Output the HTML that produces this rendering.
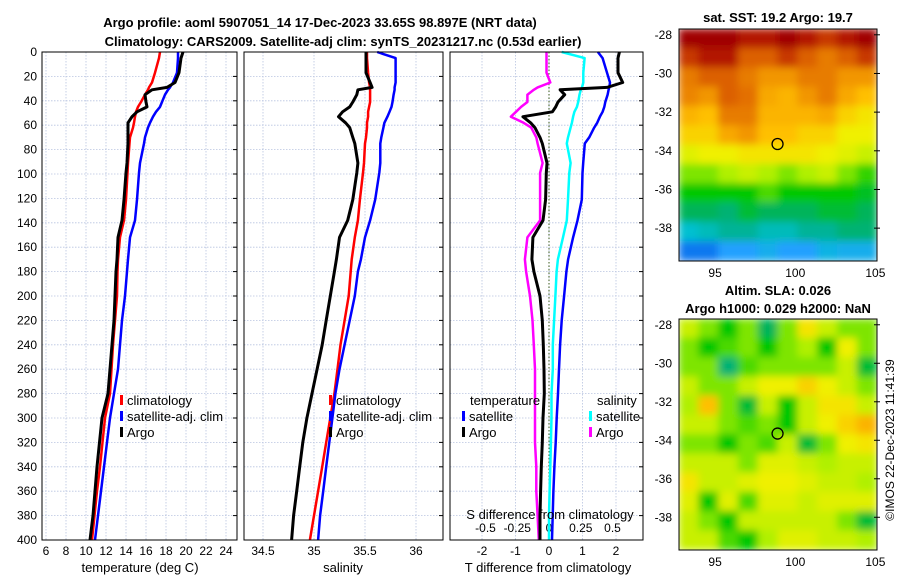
<!DOCTYPE html>
<html><head><meta charset="utf-8"><style>
body{margin:0;background:#fff;}
svg text{font-family:"Liberation Sans",sans-serif;}
</style></head><body>
<svg id="fig" width="900" height="580" xmlns="http://www.w3.org/2000/svg">
<text x="320" y="27" text-anchor="middle" font-size="13" font-weight="bold">Argo profile: aoml 5907051_14 17-Dec-2023 33.65S 98.897E (NRT data)</text>
<text x="343" y="46" text-anchor="middle" font-size="13" font-weight="bold">Climatology: CARS2009. Satellite-adj clim: synTS_20231217.nc (0.53d earlier)</text>
<text x="778" y="22" text-anchor="middle" font-size="13" font-weight="bold">sat. SST: 19.2 Argo: 19.7</text>
<text x="778" y="295" text-anchor="middle" font-size="13" font-weight="bold">Altim. SLA: 0.026</text>
<text x="778" y="313" text-anchor="middle" font-size="13" font-weight="bold">Argo h1000: 0.029 h2000: NaN</text>
<text transform="translate(894,440) rotate(-90)" text-anchor="middle" font-size="12">©IMOS 22-Dec-2023 11:41:39</text>
<g id="g"></g>
</svg>
<script>
// ---- data ----
const depths = [0,5,17,25,29,31,35,41,45,49,53,58,62,70,75,91,99,121,138,152,170,180,200,220,240,260,280,300,320,340,360,380,400];
const tempClim  = [17.4,17.3,16.9,16.6,16.3,16.2,15.9,15.5,15.2,15.0,14.9,14.8,14.7,14.4,14.35,14.2,14.15,14.0,13.8,13.4,13.2,13.15,13.1,12.9,12.7,12.55,12.4,11.9,11.65,11.4,11.1,10.85,10.6];
const tempSat   = [19.2,19.2,19.1,18.7,18.4,18.2,17.9,17.6,17.4,17.0,16.7,16.4,16.2,15.9,15.8,15.4,15.3,15.1,14.9,14.4,14.2,14.1,13.9,13.6,13.4,13.2,12.8,12.4,12.1,11.8,11.5,11.2,10.9];
const tempArgo  = [19.7,19.5,19.3,18.9,18.1,16.6,15.9,16.0,16.1,15.1,14.6,14.2,14.2,14.2,14.2,14.1,14.0,13.8,13.6,13.2,13.1,13.0,12.9,12.8,12.6,12.4,12.2,11.6,11.35,11.1,10.9,10.7,10.4];
const salClim   = [35.52,35.52,35.53,35.54,35.55,35.55,35.55,35.55,35.54,35.53,35.53,35.52,35.52,35.51,35.5,35.49,35.48,35.45,35.43,35.40,35.37,35.36,35.34,35.3,35.26,35.23,35.2,35.16,35.12,35.08,35.04,35.0,34.96];
const salSat    = [35.62,35.8,35.8,35.8,35.79,35.79,35.78,35.77,35.76,35.74,35.72,35.69,35.68,35.66,35.65,35.65,35.64,35.6,35.55,35.5,35.46,35.43,35.4,35.35,35.3,35.25,35.21,35.18,35.15,35.12,35.09,35.06,35.04];
const salArgo   = [35.51,35.51,35.51,35.55,35.57,35.43,35.42,35.38,35.35,35.28,35.24,35.31,35.35,35.38,35.40,35.43,35.42,35.38,35.33,35.25,35.22,35.2,35.16,35.12,35.08,35.03,34.98,34.93,34.89,34.86,34.83,34.8,34.78];
const tDiffSat  = [1.46,1.6,1.73,1.82,1.8,1.78,1.75,1.68,1.65,1.6,1.52,1.44,1.35,1.2,1.07,1.02,1.0,0.98,0.85,0.72,0.57,0.52,0.45,0.38,0.33,0.3,0.27,0.23,0.2,0.16,0.13,0.11,0.09];
const tDiffArgo = [2.1,2.06,2.06,2.2,1.73,0.33,0.47,0.27,0.2,0.1,-0.78,-0.55,-0.42,-0.27,-0.2,-0.06,-0.08,-0.1,-0.18,-0.48,-0.51,-0.45,-0.27,-0.2,-0.17,-0.15,-0.14,-0.18,-0.2,-0.23,-0.25,-0.27,-0.27];
const sDiffSat  = [0.10,0.28,0.27,0.27,0.26,0.25,0.24,0.23,0.22,0.2,0.19,0.18,0.17,0.15,0.14,0.17,0.16,0.15,0.14,0.11,0.07,0.06,0.05,0.04,0.03,0.03,0.02,0.02,0.015,0.01,0.005,0.0,0.0];
const sDiffArgo = [-0.02,-0.02,-0.02,0.01,-0.09,-0.12,-0.17,-0.17,-0.22,-0.26,-0.3,-0.2,-0.14,-0.1,-0.09,-0.05,-0.07,-0.07,-0.07,-0.17,-0.19,-0.18,-0.15,-0.13,-0.12,-0.11,-0.11,-0.11,-0.11,-0.1,-0.1,-0.09,-0.08];
const depthTicks = [0,20,40,60,80,100,120,140,160,180,200,220,240,260,280,300,320,340,360,380,400];
const tempTicks = [6,8,10,12,14,16,18,20,22,24];
const salTicks = [34.5,35,35.5,36];
const tdTicks = [-2,-1,0,1,2];
const sdTicks = [-0.5,-0.25,0,0.25,0.5];
const sdLabels = ["-0.5","-0.25","0","0.25","0.5"];
const lonTicks = [95,100,105];
const latTicks = [-28,-30,-32,-34,-36,-38];
const argoLon = 98.897, argoLat = -33.65;
const sstGrid = [
[1,1,1,0.95,0.95,1,0.95,0.9,0.95,1],
[0.9,0.95,0.95,0.85,0.85,0.9,0.85,0.8,0.85,0.9],
[0.8,0.85,0.85,0.8,0.75,0.75,0.8,0.8,0.75,0.75],
[0.78,0.75,0.85,0.82,0.72,0.7,0.75,0.8,0.72,0.68],
[0.7,0.68,0.8,0.8,0.7,0.7,0.7,0.72,0.65,0.62],
[0.65,0.65,0.72,0.75,0.68,0.68,0.65,0.65,0.6,0.6],
[0.58,0.6,0.6,0.62,0.62,0.62,0.62,0.6,0.58,0.55],
[0.5,0.5,0.52,0.55,0.52,0.5,0.52,0.55,0.5,0.47],
[0.45,0.45,0.45,0.45,0.48,0.45,0.45,0.45,0.45,0.43],
[0.4,0.4,0.38,0.42,0.4,0.4,0.4,0.42,0.42,0.4],
[0.3,0.32,0.35,0.35,0.32,0.32,0.35,0.35,0.38,0.38],
[0.2,0.2,0.25,0.25,0.27,0.25,0.25,0.28,0.27,0.27]];
const slaGrid = [
[.55,.5,.45,.5,.4,.5,.62,.55,.5,.5],
[.5,.45,.48,.5,.45,.5,.52,.45,.6,.5],
[.5,.5,.38,.48,.5,.5,.5,.5,.55,.42],
[.55,.5,.5,.55,.6,.6,.65,.6,.55,.5],
[.52,.68,.5,.42,.55,.45,.55,.62,.62,.55],
[.55,.55,.5,.48,.5,.45,.55,.6,.65,.7],
[.5,.5,.45,.5,.48,.55,.42,.5,.6,.62],
[.55,.55,.55,.5,.58,.58,.55,.52,.55,.55],
[.62,.55,.55,.58,.6,.6,.58,.55,.55,.52],
[.58,.45,.58,.48,.58,.58,.55,.58,.58,.58],
[.55,.5,.45,.55,.55,.55,.55,.55,.5,.42],
[.55,.55,.48,.45,.52,.58,.58,.55,.55,.52]];
const cmapStops = [0.15,0.25,0.3,0.36,0.4,0.45,0.52,0.6,0.68,0.76,0.85,0.92,1.0];
const cmapColors = [[0,80,224],[32,160,255],[0,192,208],[0,176,140],[0,180,90],[0,200,0],[176,240,0],[240,240,0],[255,192,0],[240,144,0],[220,96,0],[190,40,0],[160,0,0]];

// ---- helpers ----
const NS="http://www.w3.org/2000/svg";
const G=document.getElementById('g');
function mk(tag,attrs,parent){const e=document.createElementNS(NS,tag);for(const k in attrs)e.setAttribute(k,attrs[k]);(parent||G).appendChild(e);return e;}
const Y0=52,Y1=540;
const yD=d=>Y0+(d/400)*(Y1-Y0);
const xT=t=>46+(t-6)*10;
const xS=s=>314+(s-35)*102;
const xTd=v=>549+v*33.5;
const xSd=v=>549+v*127;
const panels=[{x0:42,x1:237},{x0:244,x1:443},{x0:450,x1:643}];

function cmap(v){
 if(v<=cmapStops[0]){const c=cmapColors[0];return `rgb(${c})`;}
 for(let i=1;i<cmapStops.length;i++){
  if(v<=cmapStops[i]){const f=(v-cmapStops[i-1])/(cmapStops[i]-cmapStops[i-1]);
   const a=cmapColors[i-1],b=cmapColors[i];
   return `rgb(${a.map((x,k)=>Math.round(x+(b[k]-x)*f)).join(',')})`;}
 }
 const c=cmapColors[cmapColors.length-1];return `rgb(${c})`;
}

panels.forEach((p,i)=>{
 depthTicks.forEach(d=>{
  const l=mk('line',{x1:p.x0,x2:p.x1,y1:yD(d),y2:yD(d),stroke:'#b8c4e0','stroke-width':0.8,'stroke-dasharray':'1.5,1.5'});
  
  
  const t=mk('line',{x1:p.x1-4,x2:p.x1,y1:yD(d),y2:yD(d),stroke:'#000'});
  
  
 });
});
function vgrid(ticks,fx,p,labels,ly,name){
 ticks.forEach((v,i)=>{
  const x=fx(v);
  const l=mk('line',{x1:x,x2:x,y1:Y0,y2:Y1,stroke:'#b8c4e0','stroke-width':0.8,'stroke-dasharray':'1.5,1.5'});
  
  
  if(labels){const t=mk('text',{x:x,y:ly,'text-anchor':'middle','font-size':12});t.textContent=labels[i];
   
   }
 });
}
vgrid(tempTicks,xT,panels[0],tempTicks.map(String),555,'temperature');
vgrid(salTicks,xS,panels[1],salTicks.map(String),555,'salinity');
vgrid(tdTicks,xTd,panels[2],tdTicks.map(String),555,'t-difference');
sdTicks.forEach((v,i)=>{const t=mk('text',{x:xSd(v),y:532,'text-anchor':'middle','font-size':12});t.textContent=sdLabels[i];
 
 });
depthTicks.forEach(d=>{const t=mk('text',{x:37,y:yD(d)+4,'text-anchor':'end','font-size':12});t.textContent=d;
 
 });
const z=mk('line',{x1:xTd(0),x2:xTd(0),y1:Y0,y2:Y1,stroke:'#3a5a1a','stroke-width':1,'stroke-dasharray':'1.5,2'});



function series(vals,fx,color,w,name){
 const pts=vals.map((v,i)=>fx(v).toFixed(1)+','+yD(depths[i]).toFixed(1)).join(' ');
 const l=mk('polyline',{points:pts,fill:'none',stroke:color,'stroke-width':w,'stroke-linejoin':'round'});
 
 
}
series(tempClim,xT,'#ff0000',2.5,'temperature-climatology-line');
series(tempSat,xT,'#0000ff',2.5,'temperature-satellite-line');
series(tempArgo,xT,'#000',3,'temperature-argo-line');
series(salClim,xS,'#ff0000',2.5,'salinity-climatology-line');
series(salSat,xS,'#0000ff',2.5,'salinity-satellite-line');
series(salArgo,xS,'#000',3,'salinity-argo-line');
series(sDiffSat,xSd,'#00ffff',2.5,'s-diff-satellite-line');
series(tDiffSat,xTd,'#0000ff',2.5,'t-diff-satellite-line');
series(sDiffArgo,xSd,'#ff00ff',2.5,'s-diff-argo-line');
series(tDiffArgo,xTd,'#000',3,'t-diff-argo-line');

panels.forEach(p=>{const r=mk('rect',{x:p.x0,y:Y0,width:p.x1-p.x0,height:Y1-Y0,fill:'none',stroke:'#000'});
 
 });

function leg(x,y,color,label,name){
 const r=mk('rect',{x:x,y:y-10,width:3,height:10,fill:color});
 
 
 const t=mk('text',{x:x+7,y:y,'font-size':13});t.textContent=label;
 
 
}
leg(120,405,'#ff0000','climatology','legend-climatology');
leg(120,421,'#0000ff','satellite-adj. clim','legend-satellite');
leg(120,437,'#000','Argo','legend-argo');
leg(329,405,'#ff0000','climatology','legend-sal-climatology');
leg(329,421,'#0000ff','satellite-adj. clim','legend-sal-satellite');
leg(329,437,'#000','Argo','legend-sal-argo');
const lt=mk('text',{x:470,y:405,'font-size':13});lt.textContent='temperature';


const ls=mk('text',{x:597,y:405,'font-size':13});ls.textContent='salinity';


leg(462,421,'#0000ff','satellite','legend-td-satellite');
leg(462,437,'#000','Argo','legend-td-argo');
leg(589,421,'#00ffff','satellite','legend-sd-satellite');
leg(589,437,'#ff00ff','Argo','legend-sd-argo');
const sdl=mk('text',{x:550,y:519,'text-anchor':'middle','font-size':13});sdl.textContent='S difference from climatology';


[[140,'temperature (deg C)','temperature-axis-title'],[343,'salinity','salinity-axis-title'],[548,'T difference from climatology','t-difference-axis-title']].forEach(a=>{
 const t=mk('text',{x:a[0],y:572,'text-anchor':'middle','font-size':13});t.textContent=a[1];
 
 
});

function map(grid,top,bot,latTop,latBot,name){
 const X0=679,X1=877,lonL=92.75,lonR=105.1;
 const lx=lon=>X0+(lon-lonL)/(lonR-lonL)*(X1-X0);
 const ly=lat=>top+(latTop-lat)/(latTop-latBot)*(bot-top);
 const nr=grid.length,nc=grid[0].length,cw=(X1-X0)/nc,ch=(bot-top)/nr;
 const cp=mk('clipPath',{id:name+'-clip'});mk('rect',{x:X0,y:top,width:X1-X0,height:bot-top},cp);
 const gg=mk('g',{'clip-path':`url(#${name}-clip)`});
 const inner=mk('g',{filter:'url(#blur)'},gg);
 grid.forEach((row,i)=>row.forEach((v,j)=>{
  const r=mk('rect',{x:X0+j*cw-0.5,y:top+i*ch-0.5,width:cw+1,height:ch+1,fill:cmap(v)},inner);
  
  
 }));
 const fr=mk('rect',{x:X0,y:top,width:X1-X0,height:bot-top,fill:'none',stroke:'#000'});
 
 
 const c=mk('circle',{cx:lx(argoLon),cy:ly(argoLat),r:5.5,fill:'none',stroke:'#000','stroke-width':1.3});
 
 
 latTicks.forEach(l=>{const t=mk('text',{x:672,y:ly(l)+4,'text-anchor':'end','font-size':12});t.textContent=l;
  
  
  mk('line',{x1:X1-3,x2:X1+3,y1:ly(l),y2:ly(l),stroke:'#000'});});
 lonTicks.forEach(l=>{const t=mk('text',{x:lx(l),y:bot+16,'text-anchor':'middle','font-size':12});t.textContent=l;
  
  });
}
const defs=mk('defs',{});
const f=mk('filter',{id:'blur',x:'-5%',y:'-5%',width:'110%',height:'110%'},defs);
mk('feGaussianBlur',{stdDeviation:4},f);
map(sstGrid,29,261,-27.7,-39.7,'sst-map');
map(slaGrid,319,550,-27.7,-39.7,'sla-map');
</script>
</body></html>
